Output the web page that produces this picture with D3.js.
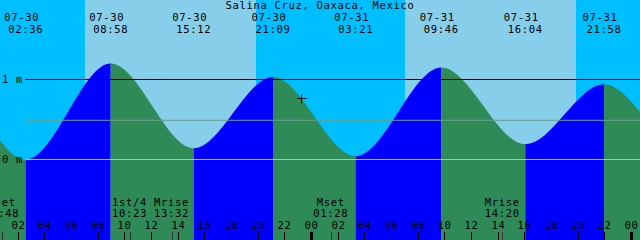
<!DOCTYPE html>
<html lang="en">
<head>
    <meta charset="UTF-8">
    <title>Salina Cruz tides</title>
    <style>
        body { margin: 0; background: #fff; }
        svg { display: block; }
        text { font-family: "DejaVu Sans Mono", monospace; font-size: 10.5px; letter-spacing: 0.68px; fill: #000; }
    </style>
</head>
<body>
    <div id="chart"></div>
    <script src="https://cdn.jsdelivr.net/npm/d3@7"></script>
    <script>
        // tide extremes (first two and last two lie outside the window)
        const tideTimes = ["07-29 14:05", "07-29 20:20", "07-30 02:36", "07-30 08:58", "07-30 15:12", "07-30 21:09",
                           "07-31 03:21", "07-31 09:46", "07-31 16:04", "07-31 21:58", "08-01 04:10", "08-01 10:30"];
        const tideLevels = [0.10, 1.05, 0.00, 1.20, 0.14, 1.03, 0.04, 1.15, 0.19, 0.94, 0.08, 1.12];

        const sunrise = ["07-30 07:02", "07-31 07:02"];
        const sunset = ["07-30 19:52", "07-31 19:52"];

        const moonTimes = ["07-30 00:48", "07-30 10:23", "07-30 13:32", "07-31 01:28", "07-31 14:20"];
        const moonNames = ["Mset", "1st/4", "Mrise", "Mset", "Mrise"];

        const levelTicks = [0, 1];
        const meanLevel = 0.49;
        const nowTime = "07-30 23:15";
        const nowLevel = 0.765;

        const title = "Salina Cruz, Oaxaca, Mexico";
        const viewStart = "07-30 00:40";
        const viewEnd = "08-01 00:40";
    </script>
    <script>
        const width = 640, height = 240;
        const parse = d3.utcParse("%m-%d %H:%M");

        const x = d3.scaleUtc()
            .domain([parse(viewStart), parse(viewEnd)])
            .range([0, width]);
        const xr = x.copy().interpolate(d3.interpolateRound);

        const y = d3.scaleLinear()
            .domain([0, 1])
            .range([159.5, 79.5]);

        const tides = tideTimes.map((t, i) => ({t: parse(t), v: tideLevels[i]}));

        const svg = d3.select("#chart").append("svg")
            .attr("width", width)
            .attr("height", height)
            .attr("viewBox", [0, 0, width, height]);

        // sky: night, then daylight bands
        svg.append("rect")
            .attr("width", width).attr("height", height)
            .attr("fill", "#00bfff");
        svg.append("g")
            .selectAll("rect")
            .data(sunrise)
            .join("rect")
            .attr("x", (d) => xr(parse(d)))
            .attr("y", 0)
            .attr("width", (d, i) => xr(parse(sunset[i])) - xr(parse(d)))
            .attr("height", height)
            .attr("fill", "#87ceeb");

        // water, clipped under the tide curve
        const area = d3.area()
            .x(d => x(d.t))
            .y0(height)
            .y1(d => y(d.v))
            .curve(d3.curveMonotoneX);

        svg.append("clipPath")
            .attr("id", "water")
            .append("path")
            .attr("d", area(tides));

        svg.append("g")
            .attr("clip-path", "url(#water)")
            .selectAll("rect")
            .data(tides.slice(0, -1))
            .join("rect")
            .attr("x", (d) => x(d.t))
            .attr("y", 0)
            .attr("width", (d, i) => x(tides[i + 1].t) - x(d.t))
            .attr("height", height)
            .attr("fill", (d, i) => tides[i + 1].v > d.v ? "#0000ff" : "#2e8b57");

        // level lines
        svg.append("line")
            .attr("x1", 25).attr("x2", width)
            .attr("y1", y(meanLevel)).attr("y2", y(meanLevel))
            .attr("stroke", "#6a9e8c");
        svg.append("g")
            .selectAll("line")
            .data(levelTicks)
            .join("line")
            .attr("x1", 25).attr("x2", width)
            .attr("y1", d => y(d)).attr("y2", d => y(d))
            .attr("stroke", d => d === 0 ? "#87ceeb" : "#000");
        svg.append("g")
            .selectAll("text")
            .data(levelTicks)
            .join("text")
            .attr("x", 2)
            .attr("y", d => y(d))
            .attr("dy", "0.35em")
            .text(d => d + " m");

        // title
        svg.append("text")
            .attr("x", width / 2)
            .attr("y", 9)
            .attr("text-anchor", "middle")
            .text(title);

        // high / low labels
        const shown = tides.filter(d => d.t >= x.domain()[0] && d.t <= x.domain()[1]);
        const ext = svg.append("g").attr("text-anchor", "middle");
        ext.selectAll(".date")
            .data(shown)
            .join("text")
            .attr("x", d => x(d.t) - 4)
            .attr("y", 21)
            .text(d => d3.utcFormat("%m-%d")(d.t));
        ext.selectAll(".time")
            .data(shown)
            .join("text")
            .attr("x", d => x(d.t))
            .attr("y", 33)
            .text(d => d3.utcFormat("%H:%M")(d.t));

        // moon events
        const moon = svg.append("g").attr("text-anchor", "middle");
        moon.selectAll(".name")
            .data(moonTimes)
            .join("text")
            .attr("x", d => x(parse(d)))
            .attr("y", 206)
            .text((d, i) => moonNames[i]);
        moon.selectAll(".mtime")
            .data(moonTimes)
            .join("text")
            .attr("x", d => x(parse(d)))
            .attr("y", 217)
            .text(d => d.slice(6));
        svg.append("g")
            .selectAll("line")
            .data(moonTimes)
            .join("line")
            .attr("x1", d => xr(parse(d)) + 0.5).attr("x2", d => xr(parse(d)) + 0.5)
            .attr("y1", 232).attr("y2", height)
            .attr("stroke", "#333");

        // hour axis
        const axis = svg.append("g")
            .attr("transform", `translate(0,${height})`)
            .call(d3.axisTop(xr)
                .ticks(d3.utcHour.every(2))
                .tickFormat(d3.utcFormat("%H"))
                .tickSize(8)
                .tickPadding(3))
            .call(g => g.select(".domain").remove());
        axis.attr("font-family", null).attr("font-size", null);
        axis.selectAll(".tick line").attr("stroke", "#000");
        axis.selectAll(".tick")
            .filter(d => d.getUTCHours() === 0)
            .select("line")
            .attr("stroke-width", 3);

        // now marker
        const nx = xr(parse(nowTime)) + 0.5, ny = Math.round(y(nowLevel)) + 0.5;
        svg.append("path")
            .attr("d", `M${nx - 4},${ny}H${nx + 5}M${nx},${ny - 4}V${ny + 5}`)
            .attr("stroke", "#000");
    </script>
</body>
</html>
